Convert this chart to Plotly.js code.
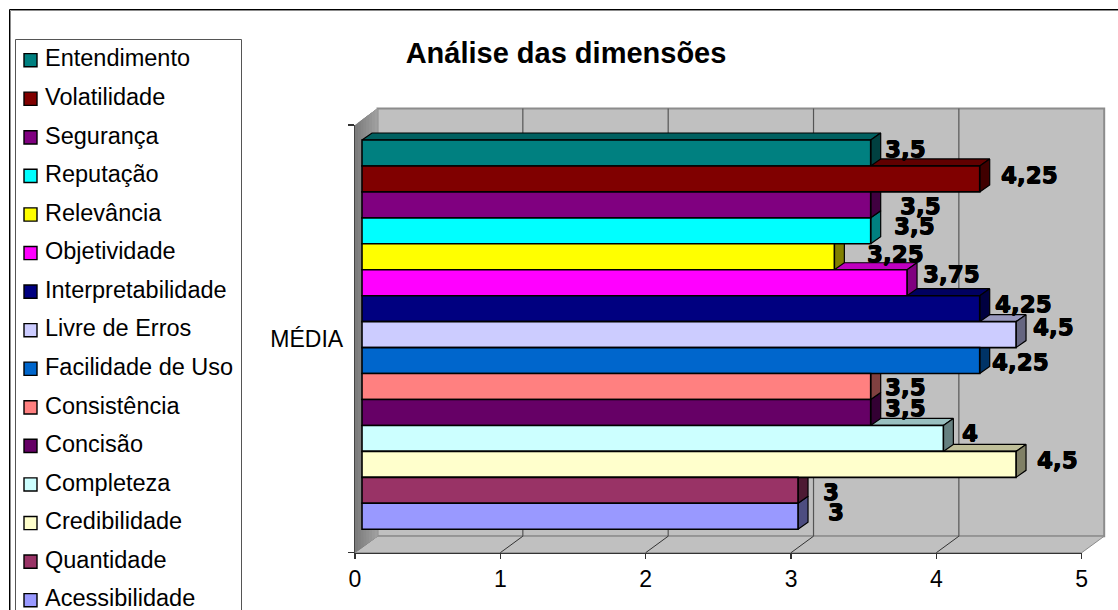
<!DOCTYPE html>
<html>
<head>
<meta charset="utf-8">
<script src="https://cdn.plot.ly/plotly-3.0.1.min.js"></script>
<style>html,body{margin:0;padding:0;background:#fff;overflow:hidden}#chart{width:1118px;height:610px}</style>
</head>
<body>
<div id="chart"></div>
<script>
// Dimensions, top to bottom as stacked in the chart
const dimensions = ["Entendimento","Volatilidade","Segurança","Reputação","Relevância","Objetividade","Interpretabilidade","Livre de Erros","Facilidade de Uso","Consistência","Concisão","Completeza","Credibilidade","Quantidade","Acessibilidade"];
const averages = [3.5,4.25,3.5,3.5,3.25,3.75,4.25,4.5,4.25,3.5,3.5,4,4.5,3,3];
const colors = ["#008080","#800000","#800080","#00ffff","#ffff00","#ff00ff","#000080","#ccccff","#0066cc","#ff8080","#660066","#ccffff","#ffffcc","#993366","#9999ff"];
const xTicks = [0,1,2,3,4,5];
const categoryLabel = "MÉDIA";
const chartTitle = "Análise das dimensões";

// Hand placement of the value labels relative to the end of each bar (pixels)
const labelShiftX = [34.5,49.3,49.5,44,60.8,44.8,43.5,37,40.5,34.5,34.5,26.8,41.6,33,38];
const labelShiftY = [4,4,-1,5,3,9,5,8,-1,0,4,5,4,-2,4];

const W = 1118, H = 610;
const px = v => v / W, py = v => 1 - v / H;

// Plot box of the front plane, in pixels
const axisLeft = 355, axisRight = 1081.7, axisTop = 125, axisBottom = 552.7;
const unitPx = (axisRight - axisLeft) / 5;

// Oblique projection: wall depth, and the inset and depth of the bars
const wallDx = 22.5, wallDy = 16.5;
const barInset = 7;
const barDxPx = 10, barDyPx = 7;
const barsTop = 140, rowPx = 25.95;
const rows = dimensions.length;

const barDx = barDxPx / unitPx;
const barDy = barDyPx / rowPx;
const barRangeX = [-barInset / unitPx, 5 - barInset / unitPx];
const yLow = -0.5 - (axisBottom - (barsTop + rows * rowPx)) / rowPx;
const yHigh = yLow + (axisBottom - axisTop) / rowPx;

function shade(hex, f) {
  const n = parseInt(hex.slice(1), 16);
  const c = [n >> 16, (n >> 8) & 255, n & 255].map(p => Math.round(p * f));
  return `rgb(${c[0]},${c[1]},${c[2]})`;
}
const rowOf = k => rows - 1 - k;

// Depth faces sit on their own subplot beneath the front faces;
// they are added from the bottom row up so upper bars overlap lower tops.
const faceTraces = [];
for (let k = rows - 1; k >= 0; k--) {
  const v = averages[k], y = rowOf(k);
  const hi = y + 0.5, lo = y - 0.5;
  faceTraces.push({
    type: "scatter", mode: "lines", xaxis: "x2", yaxis: "y2", hoverinfo: "skip", showlegend: false,
    x: [0, v, v + barDx, barDx, 0], y: [hi, hi, hi + barDy, hi + barDy, hi],
    fill: "toself", fillcolor: shade(colors[k], 0.75), line: {color: "#000", width: 1.2}
  });
  faceTraces.push({
    type: "scatter", mode: "lines", xaxis: "x2", yaxis: "y2", hoverinfo: "skip", showlegend: false,
    x: [v, v + barDx, v + barDx, v, v], y: [lo, lo + barDy, hi + barDy, hi, lo],
    fill: "toself", fillcolor: shade(colors[k], 0.5), line: {color: "#000", width: 1.2}
  });
}

// Front faces, one series per dimension
const barTraces = dimensions.map((name, k) => ({
  type: "bar", orientation: "h", name, xaxis: "x3", yaxis: "y3",
  x: [averages[k]], y: [rowOf(k)], width: 1,
  marker: {color: colors[k], line: {color: "#000", width: 1.6}},
  hovertemplate: name + ": %{x}<extra></extra>"
}));

// Carrier trace so the visible category axis is drawn
const axisTrace = {type: "scatter", mode: "none", x: [0], y: [categoryLabel], hoverinfo: "skip", showlegend: false};

// Walls and floor of the chart box; paper references let them run past the front plane
const xp = (v, dx) => px(axisLeft + v * unitPx + (dx || 0));
const shapes = [];
const poly = (pts, fill, lineColor, lineWidth) => shapes.push({
  type: "path", xref: "paper", yref: "paper", layer: "below",
  path: "M" + pts.map(p => `${xp(p[0], p[1])},${py(p[2])}`).join("L") + "Z",
  fillcolor: fill, line: {color: lineColor, width: lineWidth}
});
const backTop = axisTop - wallDy, backBottom = axisBottom - wallDy;
poly([[0, wallDx, backTop], [5, wallDx, backTop], [5, wallDx, backBottom], [0, wallDx, backBottom]], "#c0c0c0", "#8c8c8c", 2);
poly([[0, 0, axisBottom], [0, wallDx, backBottom], [5, wallDx, backBottom], [5, 0, axisBottom]], "#c0c0c0", "#8c8c8c", 1);
// Side wall, shaded front to back: each layer overpaints the rest of the wall behind it
const wallStrips = 8;
for (let s = 0; s < wallStrips; s++) {
  const a = s / wallStrips;
  const g = Math.round(124 + 40 * a);
  poly([[0, wallDx * a, axisTop - wallDy * a], [0, wallDx, backTop],
        [0, wallDx, backBottom], [0, wallDx * a, axisBottom - wallDy * a]],
       `rgb(${g},${g},${g})`, "rgba(0,0,0,0)", 0);
}
xTicks.slice(1, -1).forEach(t => {
  shapes.push({type: "line", layer: "below", xref: "paper", yref: "paper",
    x0: xp(t, wallDx), x1: xp(t, wallDx), y0: py(backTop), y1: py(backBottom), line: {color: "#555", width: 1.2}});
  shapes.push({type: "line", layer: "below", xref: "paper", yref: "paper",
    x0: xp(t), x1: xp(t, wallDx), y0: py(axisBottom), y1: py(backBottom), line: {color: "#333", width: 1}});
});
// Outer frame and legend box
const paperRect = (x0, y0, x1, y1, color) => shapes.push({type: "rect", xref: "paper", yref: "paper", layer: "below",
  x0: px(x0), x1: px(x1), y0: py(y0), y1: py(y1), line: {color, width: 1}, fillcolor: "rgba(0,0,0,0)"});
paperRect(10.5, 10.5, 1130, 640, "#8c8c8c");
paperRect(9.5, 9.5, 1130, 640, "#000");
paperRect(15.5, 39.5, 241.5, 640, "#555");

// Legend entries, drawn in the box on the left
const legendFirst = 59, legendStep = 38.57;
const annotations = [];
dimensions.forEach((name, k) => {
  const cy = legendFirst + k * legendStep;
  shapes.push({type: "rect", xref: "paper", yref: "paper", layer: "above",
    x0: px(24), x1: px(37), y0: py(cy - 5.4), y1: py(cy + 7.8), fillcolor: colors[k], line: {color: "#000", width: 1.4}});
  annotations.push({xref: "paper", yref: "paper", x: px(43), y: py(cy - 0.6), xanchor: "left", yanchor: "middle", showarrow: false,
    text: name, font: {family: "Liberation Sans, Arial, sans-serif", size: 23.5, color: "#000"}});
});

// Value labels, comma as the decimal separator
averages.forEach((v, k) => {
  annotations.push({xref: "x3", yref: "y3", x: v, y: rowOf(k), xshift: labelShiftX[k], yshift: labelShiftY[k],
    xanchor: "center", yanchor: "middle", showarrow: false, text: String(v).replace(".", ","),
    font: {family: "DejaVu Sans, sans-serif", size: 23, color: "#000", weight: 700, shadow: "0.5px 0 0 #000, -0.5px 0 0 #000, 0 0.5px 0 #000"}});
});

const axisFont = {family: "Liberation Sans, Arial, sans-serif", size: 23, color: "#000"};
const hiddenAxis = {visible: false, fixedrange: true};
const layout = {
  width: W, height: H, margin: {l: 0, r: 0, t: 0, b: 0, pad: 0},
  paper_bgcolor: "#fff", plot_bgcolor: "rgba(0,0,0,0)", showlegend: false, hovermode: "closest",
  title: {text: "<b>" + chartTitle + "</b>", font: {family: "Liberation Sans, Arial, sans-serif", size: 29, color: "#000"},
    x: 566 / W, xanchor: "center", y: py(53), yanchor: "middle"},
  xaxis: {domain: [px(axisLeft), px(axisRight)], range: [0, 5], tickmode: "array", tickvals: xTicks,
    ticks: "outside", ticklen: 5, tickcolor: "#333", tickwidth: 1.2, showgrid: false, zeroline: false,
    showline: true, linecolor: "#333", linewidth: 1.2, tickfont: axisFont, anchor: "y", fixedrange: true},
  yaxis: {domain: [py(axisBottom), py(axisTop)], type: "category", categoryarray: [categoryLabel], range: [-0.5, 0.5],
    tickson: "boundaries", ticks: "outside", ticklen: 6, tickcolor: "#333", tickwidth: 1.2, showgrid: false, zeroline: false,
    showline: true, linecolor: "#444", linewidth: 1.2, tickfont: axisFont, ticklabelstandoff: 6, anchor: "x", fixedrange: true},
  xaxis2: Object.assign({overlaying: "x", range: barRangeX, anchor: "y2"}, hiddenAxis),
  yaxis2: Object.assign({overlaying: "y", range: [yLow, yHigh], anchor: "x2"}, hiddenAxis),
  xaxis3: Object.assign({overlaying: "x", range: barRangeX, anchor: "y3"}, hiddenAxis),
  yaxis3: Object.assign({overlaying: "y", range: [yLow, yHigh], anchor: "x3"}, hiddenAxis),
  bargap: 0, barmode: "overlay",
  shapes, annotations
};

Plotly.newPlot("chart", [axisTrace].concat(faceTraces, barTraces), layout, {displayModeBar: false, staticPlot: true});
</script>
</body>
</html>
